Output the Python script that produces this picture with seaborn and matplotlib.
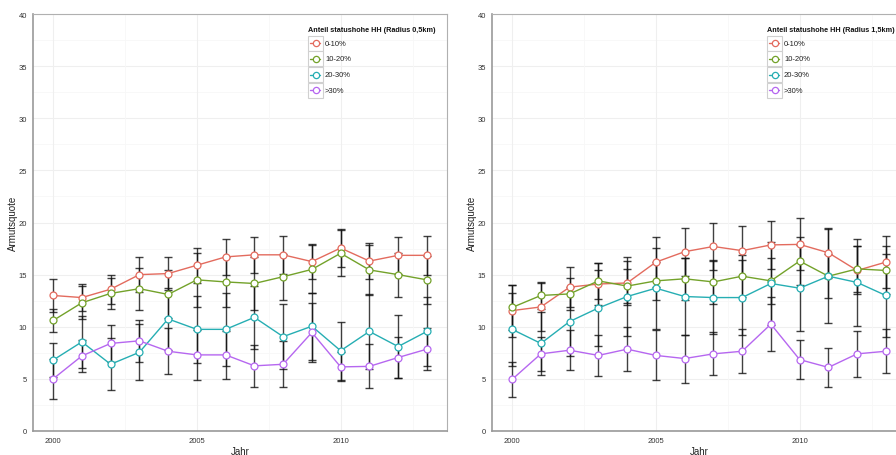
import numpy as np
import pandas as pd
import matplotlib
matplotlib.use("Agg")
import matplotlib.pyplot as plt
import seaborn as sns
from matplotlib.lines import Line2D
from matplotlib.patches import Rectangle

years = list(range(2000, 2014))
groups = ["0-10%", "10-20%", "20-30%", ">30%"]
colors = ["#E36B5E", "#73A22A", "#26AEB3", "#B667F0"]

# Left panel: Radius 0,5km
left_vals = {
    "0-10%":  [13.0, 12.8, 13.6, 15.0, 15.1, 15.9, 16.7, 16.9, 16.9, 16.25, 17.55, 16.3, 16.85, 16.85],
    "10-20%": [10.6, 12.3, 13.2, 13.65, 13.1, 14.5, 14.3, 14.15, 14.8, 15.5, 17.05, 15.45, 15.0, 14.5],
    "20-30%": [6.8, 8.55, 6.4, 7.55, 10.75, 9.75, 9.75, 10.9, 9.05, 10.05, 7.7, 9.55, 8.1, 9.55],
    ">30%":   [5.0, 7.2, 8.4, 8.65, 7.65, 7.3, 7.3, 6.25, 6.4, 9.45, 6.15, 6.2, 7.05, 7.85],
}
left_err = {
    "0-10%":  [1.6, 1.3, 1.4, 1.7, 1.6, 1.7, 1.7, 1.7, 1.8, 1.7, 1.8, 1.7, 1.8, 1.85],
    "10-20%": [1.1, 1.6, 1.5, 2.0, 2.3, 2.6, 2.4, 2.5, 2.2, 2.3, 2.2, 2.4, 2.1, 2.3],
    "20-30%": [1.6, 2.5, 2.5, 2.7, 3.0, 3.2, 3.5, 3.0, 3.1, 3.2, 2.8, 3.6, 3.0, 3.3],
    ">30%":   [1.9, 1.5, 1.8, 2.0, 2.2, 2.4, 2.3, 2.0, 2.2, 2.8, 1.4, 2.1, 2.0, 2.0],
}
# Right panel: Radius 1,5km
right_vals = {
    "0-10%":  [11.55, 11.9, 13.8, 14.1, 14.2, 16.2, 17.2, 17.7, 17.3, 17.85, 17.9, 17.1, 15.4, 16.2],
    "10-20%": [11.85, 13.0, 13.15, 14.4, 13.9, 14.4, 14.6, 14.3, 14.85, 14.4, 16.3, 14.85, 15.55, 15.4],
    "20-30%": [9.75, 8.4, 10.5, 11.8, 12.9, 13.7, 12.9, 12.8, 12.8, 14.15, 13.7, 14.85, 14.25, 13.0],
    ">30%":   [4.95, 7.4, 7.75, 7.25, 7.85, 7.25, 6.95, 7.4, 7.65, 10.25, 6.85, 6.1, 7.4, 7.65],
}
right_err = {
    "0-10%":  [2.5, 2.3, 1.9, 2.0, 2.1, 2.4, 2.3, 2.3, 2.4, 2.3, 2.5, 2.4, 2.3, 2.5],
    "10-20%": [2.2, 1.3, 1.5, 1.7, 1.6, 1.8, 2.0, 2.1, 2.0, 2.2, 2.3, 2.1, 2.2, 2.3],
    "20-30%": [3.5, 3.0, 3.3, 3.6, 3.8, 3.9, 3.7, 3.5, 3.6, 4.0, 4.1, 4.5, 4.2, 4.0],
    ">30%":   [1.7, 1.6, 1.9, 2.0, 2.1, 2.4, 2.3, 2.05, 2.1, 2.6, 1.85, 1.9, 2.2, 2.1],
}
legend_titles = ["Anteil statushohe HH (Radius 0,5km)", "Anteil statushohe HH (Radius 1,5km)"]
x_label = "Jahr"
y_label = "Armutsquote"

sns.set_theme(style="white")
plt.rcParams["font.family"] = ["Liberation Sans", "DejaVu Sans"]

W, H = 896, 456
fig = plt.figure(figsize=(W / 100, H / 100), dpi=100)
ax_w = 414
ax_h = 417
axes_px = [(33, 15), (492, 15)]

def make_df(vals, errs):
    rows = []
    for g in groups:
        for y, v, e in zip(years, vals[g], errs[g]):
            rows.append({"Jahr": y, "Armutsquote": v, "err": e, "group": g})
    return pd.DataFrame(rows)

palette = dict(zip(groups, colors))

for (axl, axt), vals, errs, ltitle in zip(axes_px, [left_vals, right_vals], [left_err, right_err], legend_titles):
    ax = fig.add_axes([axl / W, (H - axt - ax_h) / H, ax_w / W, ax_h / H])
    df = make_df(vals, errs)
    # gridlines
    for yv in np.arange(0, 41, 5):
        ax.axhline(yv, color="#efefef", lw=0.8, zorder=0)
    for yv in np.arange(2.5, 40, 5):
        ax.axhline(yv, color="#f7f7f7", lw=0.6, zorder=0)
    for xv in [2000, 2005, 2010]:
        ax.axvline(xv, color="#efefef", lw=0.8, zorder=0)
    for xv in [2002.5, 2007.5, 2012.5]:
        ax.axvline(xv, color="#f7f7f7", lw=0.6, zorder=0)
    # error bars
    for g in groups:
        sub = df[df["group"] == g]
        ax.errorbar(sub["Jahr"], sub["Armutsquote"], yerr=sub["err"], fmt="none",
                    ecolor="#111111", alpha=0.8, elinewidth=1.0, capsize=3,
                    capthick=1.0, zorder=2)
    sns.lineplot(data=df, x="Jahr", y="Armutsquote", hue="group", hue_order=groups,
                 palette=palette, marker="o", markersize=5, markerfacecolor="white",
                 markeredgewidth=0.9, linewidth=1.0, legend=False, ax=ax, zorder=3)
    for ln in ax.lines:
        c = ln.get_color()
        if ln.get_marker() == "o":
            ln.set_markeredgecolor(c)
            ln.set_markerfacecolor("white")
    ax.set_xlim(1999.3, 2013.7)
    ax.set_ylim(0, 40)
    ax.set_xticks([2000, 2005, 2010])
    ax.set_yticks(np.arange(0, 41, 5))
    ax.set_yticklabels([str(v) for v in range(0, 41, 5)])
    ax.tick_params(axis="both", labelsize=5.5, colors="#333333", length=2.5,
                   width=0.6, direction="out", pad=2)
    ax.tick_params(axis="both", color="#666666")
    ax.set_xlabel(x_label, fontsize=7, color="#222222", labelpad=1)
    ax.set_ylabel(y_label, fontsize=7, color="#222222", labelpad=0)
    for side in ["top", "right"]:
        ax.spines[side].set_color("#b0b0b0")
        ax.spines[side].set_linewidth(0.8)
    for side in ["left", "bottom"]:
        ax.spines[side].set_color("#999999")
        ax.spines[side].set_linewidth(1.2)
    ax.set_facecolor("white")

    # legend (ggplot-style, manual)
    def fx(px):
        return (px - 33) / ax_w
    def fy(py):
        return 1 - (py - 15) / ax_h
    ax.text(fx(308), fy(31), ltitle, transform=ax.transAxes, fontsize=5.25,
            fontweight="bold", va="center", ha="left", color="#111111", zorder=6)
    for i, (g, c) in enumerate(zip(groups, colors)):
        cy = 44.3 + 15.6 * i
        ax.add_patch(Rectangle((fx(308), fy(cy + 7.5)), 15 / ax_w, 15 / ax_h,
                               transform=ax.transAxes, facecolor="white",
                               edgecolor="#d0d0d0", lw=0.8, zorder=5, clip_on=False))
        ax.add_line(Line2D([fx(310), fx(320)], [fy(cy), fy(cy)], transform=ax.transAxes,
                           color=c, lw=1.0, marker=None, zorder=6, clip_on=False))
        ax.add_line(Line2D([fx(315.5)], [fy(cy)], transform=ax.transAxes, color=c,
                           marker="o", markersize=4.5, markerfacecolor="white",
                           markeredgecolor=c, markeredgewidth=0.9, zorder=7, clip_on=False))
        ax.text(fx(325), fy(cy), g, transform=ax.transAxes, fontsize=5.5, va="center",
                ha="left", color="#222222", zorder=6)

fig.savefig("out.png", dpi=100)
